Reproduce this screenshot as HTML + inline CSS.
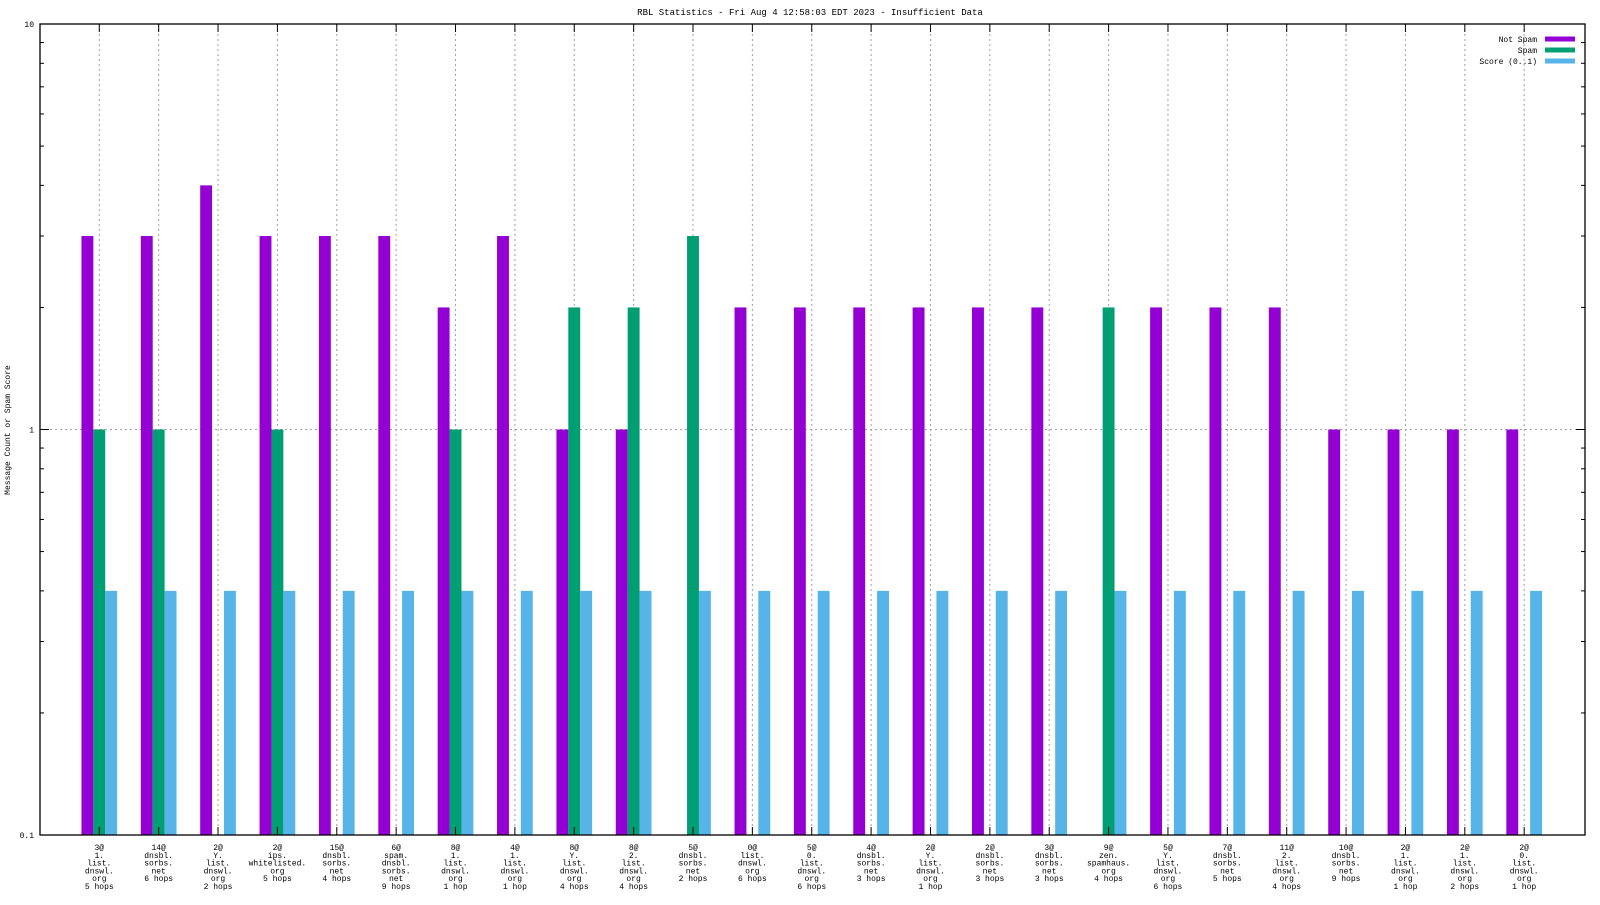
<!DOCTYPE html>
<html><head><meta charset="utf-8"><style>
html,body{margin:0;padding:0;background:#fff;}
svg text{font-family:"Liberation Mono","DejaVu Sans Mono",monospace;fill:#000;}
</style></head><body>
<svg id="chart" width="1600" height="900" xmlns="http://www.w3.org/2000/svg">
<text x="810" y="15" font-size="9" text-anchor="middle">RBL Statistics - Fri Aug  4 12:58:03 EDT 2023 - Insufficient Data</text>
<text transform="translate(10,430) rotate(-90)" font-size="8" text-anchor="middle">Message Count or Spam Score</text>
<g id="grid"></g>
<g id="bars"></g>
<g id="axes"></g>
<g id="legend"></g>
</svg>
<script>
const categories = [
["3@","1.","list.","dnswl.","org","5 hops"],
["14@","dnsbl.","sorbs.","net","6 hops"],
["2@","Y.","list.","dnswl.","org","2 hops"],
["2@","ips.","whitelisted.","org","5 hops"],
["15@","dnsbl.","sorbs.","net","4 hops"],
["6@","spam.","dnsbl.","sorbs.","net","9 hops"],
["8@","1.","list.","dnswl.","org","1 hop"],
["4@","1.","list.","dnswl.","org","1 hop"],
["8@","Y.","list.","dnswl.","org","4 hops"],
["8@","2.","list.","dnswl.","org","4 hops"],
["5@","dnsbl.","sorbs.","net","2 hops"],
["0@","list.","dnswl.","org","6 hops"],
["5@","0.","list.","dnswl.","org","6 hops"],
["4@","dnsbl.","sorbs.","net","3 hops"],
["2@","Y.","list.","dnswl.","org","1 hop"],
["2@","dnsbl.","sorbs.","net","3 hops"],
["3@","dnsbl.","sorbs.","net","3 hops"],
["9@","zen.","spamhaus.","org","4 hops"],
["5@","Y.","list.","dnswl.","org","6 hops"],
["7@","dnsbl.","sorbs.","net","5 hops"],
["11@","2.","list.","dnswl.","org","4 hops"],
["10@","dnsbl.","sorbs.","net","9 hops"],
["2@","1.","list.","dnswl.","org","1 hop"],
["2@","1.","list.","dnswl.","org","2 hops"],
["2@","0.","list.","dnswl.","org","1 hop"]
];
const notSpam = [3,3,4,3,3,3,2,3,1,1,0,2,2,2,2,2,2,0,2,2,2,1,1,1,1];
const spam    = [1,1,0,1,0,0,1,0,2,2,3,0,0,0,0,0,0,2,0,0,0,0,0,0,0];
const score   = [0.4,0.4,0.4,0.4,0.4,0.4,0.4,0.4,0.4,0.4,0.4,0.4,0.4,0.4,0.4,0.4,0.4,0.4,0.4,0.4,0.4,0.4,0.4,0.4,0.4];
const yTickLabels = ["0.1","1","10"];
const yTickValues = [0.1,1,10];
const seriesNames = ["Not Spam","Spam","Score (0..1)"];
const colors = ["#9400d3","#009e73","#56b4e9"];

const NS="http://www.w3.org/2000/svg";
const L=40,R=1585,T=24,B=835;
const x0=99.3, dx=59.37, bw=11.9;
function xScale(i){return x0+i*dx;}
function yScale(v){return B-(Math.log10(v)+1)/2*(B-T);}
function mk(tag,attrs,parent){const e=document.createElementNS(NS,tag);for(const k in attrs)e.setAttribute(k,attrs[k]);parent.appendChild(e);return e;}
const grid=document.getElementById('grid'),bars=document.getElementById('bars'),axes=document.getElementById('axes'),legend=document.getElementById('legend');

// grid
categories.forEach((c,i)=>{
  const g=mk('line',{x1:xScale(i),x2:xScale(i),y1:T,y2:B,stroke:'#a0a0a0','stroke-dasharray':'2,3','stroke-width':1},grid);
  
  
});
const hg=mk('line',{x1:L,x2:R,y1:yScale(1),y2:yScale(1),stroke:'#a0a0a0','stroke-dasharray':'2,3','stroke-width':1},grid);



// bars
const series=[notSpam,spam,score];
series.forEach((arr,s)=>{
  arr.forEach((v,i)=>{
    if(!(v>0))return;
    const cx=xScale(i)+(s-1)*bw;
    const y=yScale(v);
    const r=mk('rect',{x:cx-bw/2,y:y,width:bw,height:B-y,fill:colors[s]},bars);
    
    
  });
});

// frame
const fr=mk('rect',{x:L,y:T,width:R-L,height:B-T,fill:'none',stroke:'#000','stroke-width':1.3},axes);


// y ticks
yTickValues.forEach((v,k)=>{
  const y=yScale(v);
  mk('line',{x1:L,x2:L+9,y1:y,y2:y,stroke:'#000'},axes);
  mk('line',{x1:R,x2:R-9,y1:y,y2:y,stroke:'#000'},axes);
  const t=mk('text',{x:L-6,y:y+3,'font-size':8,'text-anchor':'end'},axes);
  t.textContent=yTickLabels[k];
  
  
  if(k<yTickValues.length-1){
    for(let m=2;m<=9;m++){
      const ym=yScale(v*m);
      mk('line',{x1:L,x2:L+4,y1:ym,y2:ym,stroke:'#000'},axes);
      mk('line',{x1:R,x2:R-4,y1:ym,y2:ym,stroke:'#000'},axes);
    }
  }
});
// x ticks and labels
categories.forEach((c,i)=>{
  const x=xScale(i);
  mk('line',{x1:x,x2:x,y1:B,y2:B-8,stroke:'#000'},axes);
  mk('line',{x1:x,x2:x,y1:T,y2:T+8,stroke:'#000'},axes);
  const t=mk('text',{x:x,y:B+15,'font-size':8,'text-anchor':'middle'},axes);
  
  
  c.forEach((line,j)=>{
    const ts=mk('tspan',{x:x,dy:j===0?0:7.8},t);
    ts.textContent=line;
  });
});
// legend
seriesNames.forEach((n,s)=>{
  const y=39+s*11;
  const t=mk('text',{x:1537,y:y+3,'font-size':8,'text-anchor':'end'},legend);
  t.textContent=n;
  
  
  const r=mk('rect',{x:1545,y:y-2.5,width:30,height:5,fill:colors[s]},legend);
  
  
});
</script>
</body></html>
